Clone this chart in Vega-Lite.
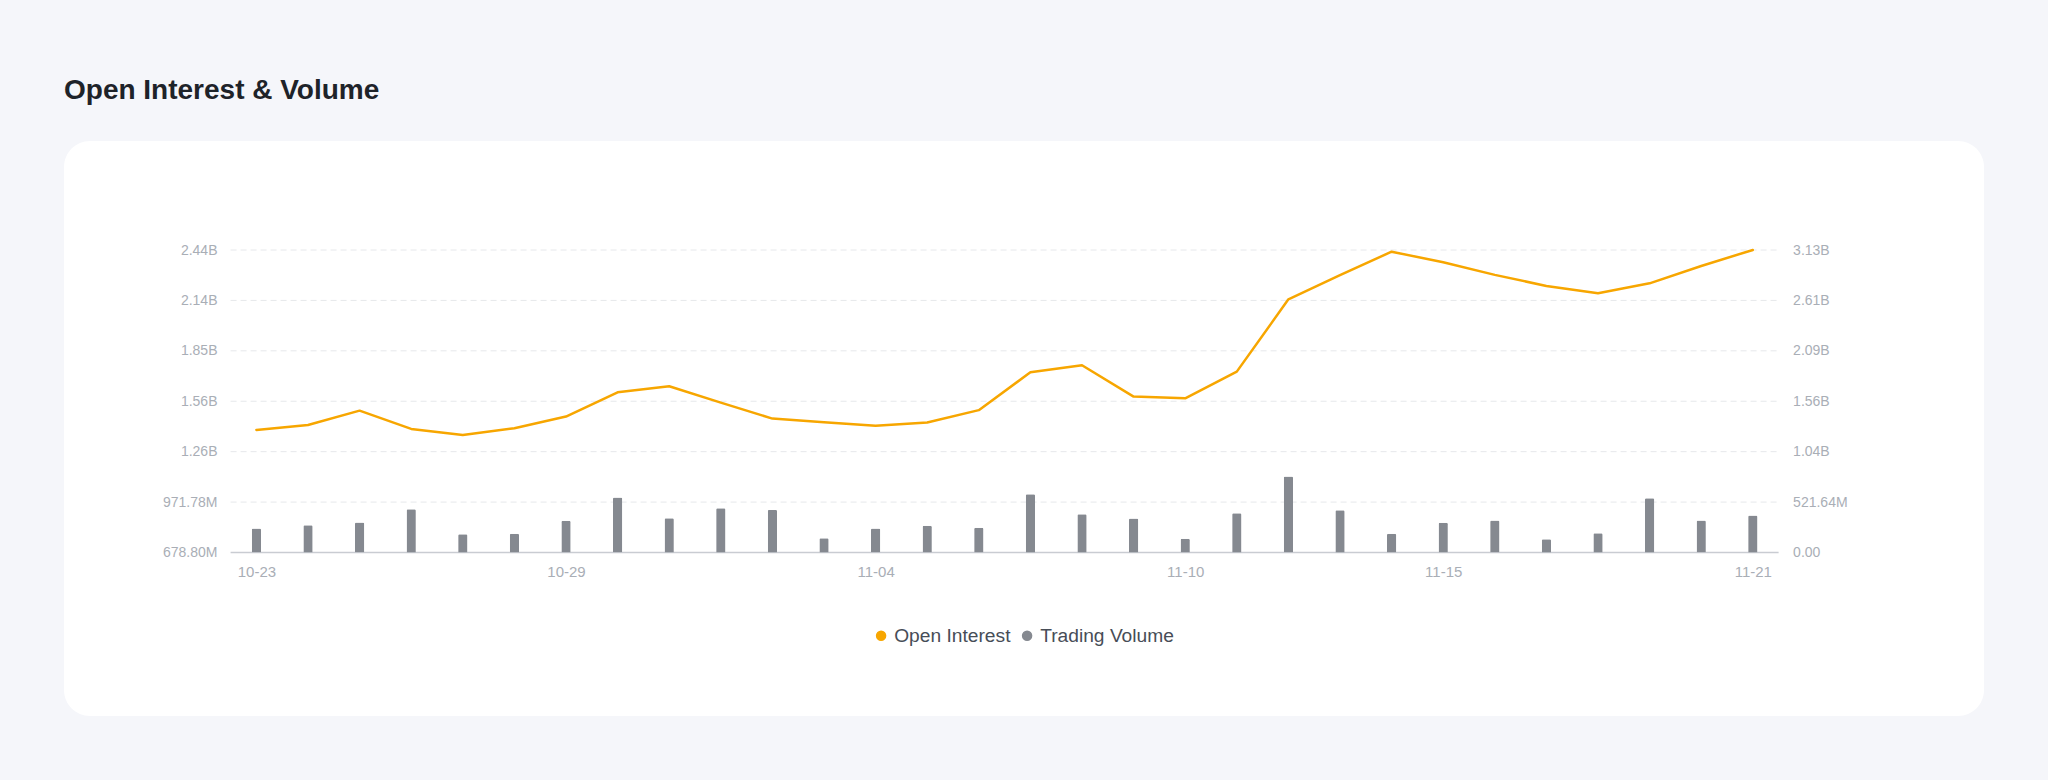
{
  "$schema": "https://vega.github.io/schema/vega-lite/v6.json",
  "width": 1920,
  "height": 575,
  "autosize": {"type": "none"},
  "padding": {"left": 64, "top": 141, "right": 64, "bottom": 64},
  "background": "#F5F6FA",
  "config": {
    "font": "Liberation Sans",
    "view": {"fill": "#FFFFFF", "stroke": null, "cornerRadius": 26},
    "axis": {"grid": false, "domain": false, "ticks": false, "title": null, "labelColor": "#A9AEB6", "labelFontSize": 14, "labelFont": "Liberation Sans", "labelOverlap": false}
  },
  "title": {"text": "Open Interest & Volume", "anchor": "start", "frame": "group", "font": "Liberation Sans", "fontSize": 28, "fontWeight": "bold", "color": "#1E2329", "baseline": "bottom", "offset": 8},
  "data": {"values": [
    {"date": "2024-10-23", "oi": 1391000000, "vol": 248000000},
    {"date": "2024-10-24", "oi": 1420000000, "vol": 283000000},
    {"date": "2024-10-25", "oi": 1503000000, "vol": 310000000},
    {"date": "2024-10-26", "oi": 1397000000, "vol": 448000000},
    {"date": "2024-10-27", "oi": 1362000000, "vol": 190000000},
    {"date": "2024-10-28", "oi": 1401000000, "vol": 193000000},
    {"date": "2024-10-29", "oi": 1469000000, "vol": 328000000},
    {"date": "2024-10-30", "oi": 1610000000, "vol": 569000000},
    {"date": "2024-10-31", "oi": 1645000000, "vol": 355000000},
    {"date": "2024-11-01", "oi": 1550000000, "vol": 459000000},
    {"date": "2024-11-02", "oi": 1457000000, "vol": 441000000},
    {"date": "2024-11-03", "oi": 1436000000, "vol": 148000000},
    {"date": "2024-11-04", "oi": 1415000000, "vol": 248000000},
    {"date": "2024-11-05", "oi": 1434000000, "vol": 276000000},
    {"date": "2024-11-06", "oi": 1506000000, "vol": 255000000},
    {"date": "2024-11-07", "oi": 1726000000, "vol": 603000000},
    {"date": "2024-11-08", "oi": 1767000000, "vol": 396000000},
    {"date": "2024-11-09", "oi": 1585000000, "vol": 352000000},
    {"date": "2024-11-10", "oi": 1575000000, "vol": 141000000},
    {"date": "2024-11-11", "oi": 1730000000, "vol": 407000000},
    {"date": "2024-11-12", "oi": 2150000000, "vol": 786000000},
    {"date": "2024-11-13", "oi": 2290000000, "vol": 438000000},
    {"date": "2024-11-14", "oi": 2427000000, "vol": 193000000},
    {"date": "2024-11-15", "oi": 2365000000, "vol": 307000000},
    {"date": "2024-11-16", "oi": 2292000000, "vol": 331000000},
    {"date": "2024-11-17", "oi": 2228000000, "vol": 138000000},
    {"date": "2024-11-18", "oi": 2185000000, "vol": 200000000},
    {"date": "2024-11-19", "oi": 2243000000, "vol": 562000000},
    {"date": "2024-11-20", "oi": 2344000000, "vol": 331000000},
    {"date": "2024-11-21", "oi": 2437000000, "vol": 383000000}
  ]},
  "layer": [
    {
      "layer": [
        {
          "data": {"values": [
            {"level": 971780000},
            {"level": 1264760000},
            {"level": 1557740000},
            {"level": 1850720000},
            {"level": 2143700000},
            {"level": 2436680000}
          ]},
          "mark": {"type": "rule", "color": "#E6E8EB", "strokeWidth": 1, "strokeDash": [6, 4]},
          "encoding": {
            "x": {"datum": {"year": 2024, "month": 10, "date": 22, "hours": 12, "utc": true}, "type": "temporal", "scale": {"type": "utc", "padding": 0, "nice": false, "domain": [{"year": 2024, "month": 10, "date": 19, "hours": 6, "minutes": 31, "utc": true}, {"year": 2024, "month": 11, "date": 25, "hours": 11, "minutes": 32, "utc": true}]}},
            "x2": {"datum": {"year": 2024, "month": 11, "date": 21, "hours": 12, "utc": true}},
            "y": {"field": "level", "type": "quantitative", "scale": {"domain": [-271330000, 3070100000], "nice": false, "zero": false}}
          }
        },
        {
          "data": {"values": [{"level": 678800000}]},
          "mark": {"type": "rule", "color": "#C9CCD2", "strokeWidth": 1.5},
          "encoding": {
            "x": {"datum": {"year": 2024, "month": 10, "date": 22, "hours": 12, "utc": true}, "type": "temporal"},
            "x2": {"datum": {"year": 2024, "month": 11, "date": 21, "hours": 12, "utc": true}},
            "y": {"field": "level", "type": "quantitative"}
          }
        },
        {
          "mark": {"type": "line", "strokeWidth": 2.5, "strokeJoin": "round", "strokeCap": "round"},
          "encoding": {
            "x": {
              "field": "date", "type": "temporal",
              "axis": {
                "orient": "bottom", "offset": -163.5, "labelPadding": 12, "labelFontSize": 15,
                "format": "%m-%d",
                "values": [
                  {"year": 2024, "month": 10, "date": 23, "utc": true},
                  {"year": 2024, "month": 10, "date": 29, "utc": true},
                  {"year": 2024, "month": 11, "date": 4, "utc": true},
                  {"year": 2024, "month": 11, "date": 10, "utc": true},
                  {"year": 2024, "month": 11, "date": 15, "utc": true},
                  {"year": 2024, "month": 11, "date": 21, "utc": true}
                ]
              }
            },
            "y": {
              "field": "oi", "type": "quantitative",
              "axis": {
                "orient": "left", "offset": -166.6, "labelPadding": 13.6,
                "values": [678800000, 971780000, 1264760000, 1557740000, 1850720000, 2143700000, 2436680000],
                "labelExpr": "datum.value >= 1e9 ? format(datum.value / 1e9, '.2f') + 'B' : format(datum.value / 1e6, '.2f') + 'M'"
              }
            },
            "color": {
              "datum": "Open Interest",
              "scale": {"domain": ["Open Interest", "Trading Volume"], "range": ["#F7A600", "#858990"]},
              "legend": {
                "orient": "none", "legendX": 807.5, "legendY": 485, "direction": "horizontal", "title": null,
                "symbolType": "circle", "symbolSize": 81, "labelFontSize": 19.2, "labelColor": "#474D57",
                "labelOffset": 3.5, "columnPadding": 7, "padding": 0,
                "encode": {"symbols": {"update": {"fill": {"scale": "color", "field": "value"}, "stroke": {"value": "transparent"}, "opacity": {"value": 1}}}}
              }
            }
          }
        }
      ]
    },
    {
      "mark": {"type": "bar", "width": 9.3, "cornerRadiusTopLeft": 1.5, "cornerRadiusTopRight": 1.5},
      "encoding": {
        "x": {"field": "date", "type": "temporal"},
        "y": {
          "field": "vol", "type": "quantitative",
          "scale": {"domain": [-1691670000, 4257620000], "nice": false, "zero": false},
          "axis": {
            "orient": "right", "offset": -205.4, "labelPadding": 14,
            "values": [0, 521640000, 1043280000, 1564920000, 2086560000, 2608200000, 3129840000],
            "labelExpr": "datum.value == 0 ? '0.00' : datum.value >= 1e9 ? format(datum.value / 1e9, '.2f') + 'B' : format(datum.value / 1e6, '.2f') + 'M'"
          }
        },
        "color": {"datum": "Trading Volume"}
      }
    }
  ],
  "resolve": {"scale": {"y": "independent"}}
}
